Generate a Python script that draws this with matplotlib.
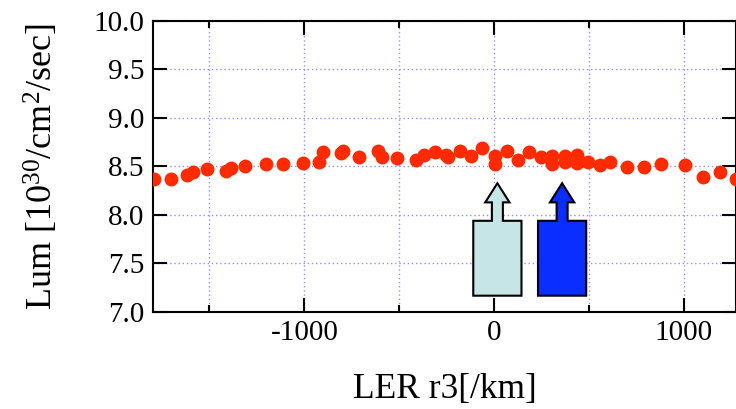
import matplotlib
matplotlib.use("Agg")
import matplotlib.pyplot as plt
from matplotlib.patches import Polygon
from matplotlib.ticker import MultipleLocator

plt.rcParams['font.family'] = ['Liberation Serif', 'DejaVu Serif']
plt.rcParams['mathtext.fontset'] = 'custom'
plt.rcParams['mathtext.rm'] = 'Liberation Serif'
plt.rcParams['mathtext.it'] = 'Liberation Serif:italic'
plt.rcParams['axes.unicode_minus'] = False

# dados
ler_r3 = [-1792, -1703, -1616, -1589, -1510, -1410, -1387, -1311, -1202, -1111,
          -1009, -921, -903, -806, -794, -710, -613, -590, -513, -414,
          -367, -314, -252, -244, -182, -120, -62, 3, 3, 68,
          126, 184, 249, 307, 307, 372, 372, 434, 434, 495,
          557, 610, 698, 790, 879, 1005, 1099, 1190, 1274]
lum = [8.37, 8.37, 8.41, 8.44, 8.47, 8.45, 8.48, 8.505, 8.525, 8.53,
       8.54, 8.55, 8.65, 8.635, 8.66, 8.60, 8.66, 8.595, 8.585, 8.57,
       8.62, 8.645, 8.62, 8.60, 8.66, 8.61, 8.69, 8.61, 8.53, 8.66,
       8.57, 8.65, 8.595, 8.61, 8.53, 8.61, 8.55, 8.62, 8.54, 8.55,
       8.515, 8.55, 8.49, 8.49, 8.525, 8.515, 8.39, 8.445, 8.37]

# setas (centro x, cor)
setas_x = [17, 358]
setas_cor = ['#c6e5e7', '#0a2eff']

fig = plt.figure(figsize=(7.36, 4.09), dpi=100)
ax = fig.add_axes([0.2079, 0.2372, 0.7921, 0.7115])

ax.plot(ler_r3, lum, 'o', color='#ff2a00', markersize=10, markeredgewidth=0, zorder=3)

for cx, cor in zip(setas_x, setas_cor):
    pts = [(cx - 127, 7.168), (cx + 127, 7.168), (cx + 127, 7.94), (cx + 29, 7.94),
           (cx + 29, 8.13), (cx + 64, 8.13), (cx, 8.327), (cx - 64, 8.13),
           (cx - 29, 8.13), (cx - 29, 7.94), (cx - 127, 7.94)]
    ax.add_patch(Polygon(pts, closed=True, facecolor=cor, edgecolor='black',
                         linewidth=1.5, zorder=4))

ax.set_xlim(-1797, 1274)
ax.set_ylim(7.0, 10.0)
ax.xaxis.set_major_locator(MultipleLocator(1000))
ax.xaxis.set_minor_locator(MultipleLocator(500))
ax.yaxis.set_major_locator(MultipleLocator(0.5))
ax.yaxis.set_major_formatter(matplotlib.ticker.FormatStrFormatter('%.1f'))

ax.tick_params(which='major', direction='in', length=10, width=1.5,
               top=True, right=True, labelsize=21, pad=6)
ax.tick_params(which='minor', direction='in', length=5, width=1.5,
               top=True, right=True)
ax.grid(True, which='both', linestyle=(0, (1, 2)), color='#9090ff', linewidth=1)
ax.set_axisbelow(True)
for s in ax.spines.values():
    s.set_linewidth(1.5)

ax.set_xlabel('LER r3[/km]', fontsize=25.5, labelpad=19)
ax.set_ylabel('Lum [10$^{30}$/cm$^{2}$/sec]', fontsize=26, labelpad=24)

plt.savefig('out.png', dpi=100)
plt.close()
